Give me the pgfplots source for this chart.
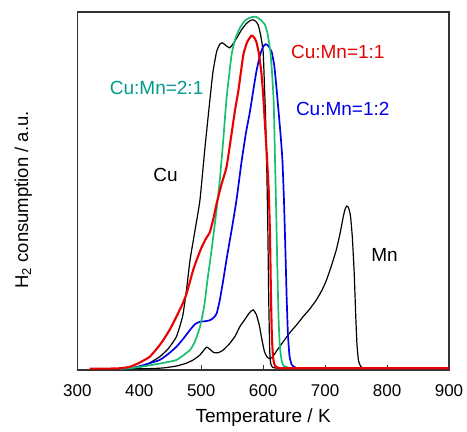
\documentclass[border=0pt]{standalone}
\usepackage{fontspec}
\setmainfont{Liberation Sans}
\usepackage{pgfplots}
\pgfplotsset{compat=1.18}
\definecolor{greenline}{RGB}{25,190,110}
\definecolor{tealtext}{RGB}{0,155,140}
\definecolor{redline}{RGB}{235,0,0}
\definecolor{blueline}{RGB}{0,0,235}
\begin{document}
\begin{tikzpicture}
\path[use as bounding box] (0,0) rectangle (467pt,432pt);
\begin{axis}[
  at={(77.3pt,62pt)}, anchor=south west,
  scale only axis, width=371.7pt, height=358pt,
  xmin=300, xmax=900, ymin=0, ymax=100,
  xtick={300,400,...,900}, ytick=\empty,
  xtick pos=bottom, tick align=inside,
  major tick length=5pt,
  axis line style={draw=black!80, line width=1.1pt},
  every tick/.style={black!80, line width=0.9pt},
  /pgf/number format/assume math mode=true,
  xticklabel style={font=\fontsize{17}{20}\selectfont, inner sep=0pt, yshift=-14pt},
  xlabel={Temperature / K},
  ylabel={H\textsubscript{2} consumption / a.u.},
  xlabel style={font=\fontsize{19}{22}\selectfont, at={(rel axis cs:0.5,0)}, anchor=center, yshift=-48pt},
  ylabel style={font=\fontsize{18.5}{22}\selectfont, at={(rel axis cs:0,0.475)}, anchor=center, yshift=54pt},
  clip=false,
]
% Mn
\addplot[black, line width=1.2pt, smooth, tension=0.3] coordinates {
(370,0.3) (420,0.4) (440,0.6) (460,1.1) (476,1.9) (487,2.8) (498,4.2) (504,5.5) (509,6.4) (514,5.8) (520,4.9) (527,4.8) (535,5.5) (545,7.2) (555,9.5) (562,12) (570,14) (578,16) (584,16.8) (589,15.5) (594,12.3) (598,8.5) (602,5.2) (606,3.7) (610,3.2) (615,3.6) (622,5.4) (632,7.8) (643,10.4) (654,12.6) (664,14.8) (675,17) (686,19.6) (695,22.3) (702,25) (710,29) (718,33.5) (724,38) (729,42.5) (732,44.8) (735,45.8) (738,45.3) (741,43) (744,37) (747,27) (749.5,15) (751.5,7) (754,2.5) (758,0.9) (764,0.4) (800,0.4) (900,0.4)};
% Cu
\addplot[black, line width=1.2pt, smooth, tension=0.3] coordinates {
(370,0.4) (390,0.6) (401,0.8) (415,1.8) (433,3.7) (447,6) (460,9.3) (470,15) (476,22) (482,30.7) (490,39) (498,47.5) (506,62) (514,75.4) (519,83.3) (525,89) (530,91) (534.5,91.4) (540,90.6) (546,90) (551,91) (557,92.6) (565,95) (573,96.8) (580,97.7) (584,97.8) (588,97.4) (592,96.4) (596,93.5) (600,88.9) (602,80) (604,70) (606,55) (607.5,40) (609,20) (610.5,6) (612,2) (615,0.8) (625,0.5) (700,0.4) (900,0.4)};
% 1:2
\addplot[blueline, line width=1.7pt, smooth, tension=0.3] coordinates {
(370,0.3) (385,0.5) (400,1) (415,1.8) (433,2.8) (447,4.5) (460,6.5) (470,8.5) (482,11.2) (490,12.8) (498,13.5) (506,13.6) (514,13.9) (520,14.6) (525,15.8) (530,19.5) (535.5,25) (541,31) (549,39) (557,47.5) (565,58) (572,66) (578.5,72) (584,78) (589,83.3) (595,88) (600,90.3) (604,91) (608,90.6) (613.5,89) (618,85) (621.6,78.7) (625,72) (628,66) (631,59) (633.5,48) (636,33) (638,20) (640,10) (642.5,4) (646,1.5) (652,0.7) (670,0.5) (900,0.5)};
% 2:1
\addplot[greenline, line width=1.7pt, smooth, tension=0.3] coordinates {
(370,0.3) (390,0.6) (410,1.1) (433,1.8) (460,2.8) (482,5.6) (490,8) (498,12) (505,18) (510,25) (514,30) (520,38) (525,45) (530,53) (535.5,64) (541,76) (549,88) (555,92.5) (562,95.4) (570,97.5) (578.5,98.4) (588,98.7) (596,97.8) (603,96.4) (607,94) (611,89.8) (614,84) (617,75) (619,60) (621,45) (623,28) (625,14) (627,6.5) (630,2.5) (633,1.2) (640,0.7) (650,0.5) (900,0.45)};
% 1:1
\addplot[redline, line width=2.1pt, smooth, tension=0.3] coordinates {
(320,0.4) (353,0.4) (370,0.5) (385,0.9) (400,2) (417,3.7) (430,6.3) (439,8.4) (450,11.5) (460,14.9) (470,18.5) (476.5,21.4) (487,27.9) (492.6,30.7) (500,34) (507,36.5) (514,38.5) (520,42.5) (525,46.6) (533,52) (541,56.8) (549,66) (555,73) (560,78) (568,88) (574,91.5) (581,93.4) (585,93) (589,91.7) (593,88.5) (597,83.3) (600,77) (603,68.4) (606,60) (609,50) (611,38) (612.5,22) (614,10) (616,3.5) (619,1.2) (625,0.6) (640,0.5) (900,0.5)};
\node[text=tealtext, font=\fontsize{19}{22}\selectfont] at (axis cs:428,78.7) {Cu:Mn=2:1};
\node[text=redline, font=\fontsize{19}{22}\selectfont] at (axis cs:720.5,88.9) {Cu:Mn=1:1};
\node[text=blueline, font=\fontsize{19}{22}\selectfont] at (axis cs:728.5,73) {Cu:Mn=1:2};
\node[text=black, font=\fontsize{19}{22}\selectfont] at (axis cs:442.5,54.5) {Cu};
\node[text=black, font=\fontsize{19}{22}\selectfont] at (axis cs:796,32) {Mn};
\end{axis}
\end{tikzpicture}
\end{document}
